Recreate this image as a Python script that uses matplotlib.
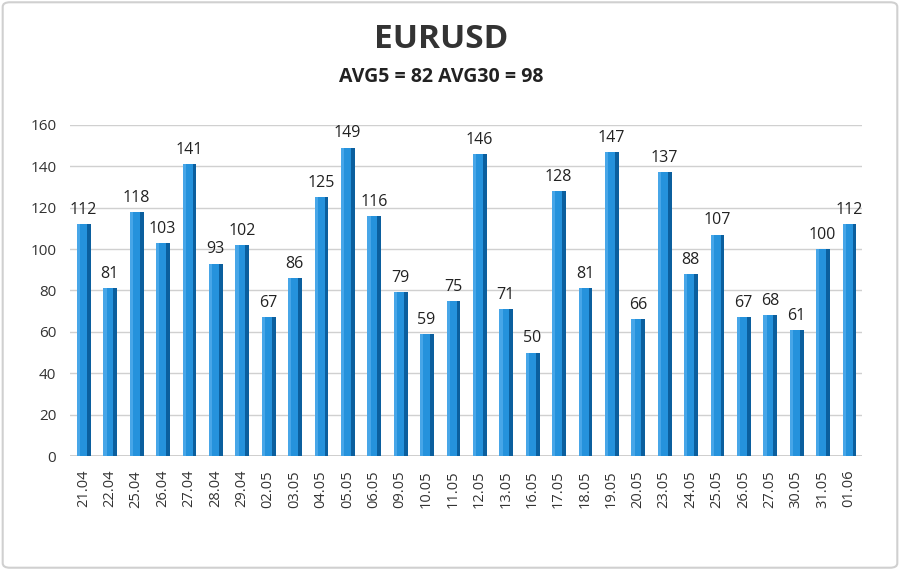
import matplotlib
matplotlib.use("Agg")
import matplotlib.pyplot as plt
import numpy as np
from matplotlib.patches import FancyBboxPatch

dates = ["21.04", "22.04", "25.04", "26.04", "27.04", "28.04", "29.04", "02.05", "03.05", "04.05",
         "05.05", "06.05", "09.05", "10.05", "11.05", "12.05", "13.05", "16.05", "17.05", "18.05",
         "19.05", "20.05", "23.05", "24.05", "25.05", "26.05", "27.05", "30.05", "31.05", "01.06"]
values = [112, 81, 118, 103, 141, 93, 102, 67, 86, 125,
          149, 116, 79, 59, 75, 146, 71, 50, 128, 81,
          147, 66, 137, 88, 107, 67, 68, 61, 100, 112]
yticks = [0, 20, 40, 60, 80, 100, 120, 140, 160]
title = "EURUSD"
subtitle = "AVG5 = 82 AVG30 = 98"

plt.rcParams['font.family'] = ['Open Sans', 'DejaVu Sans']

fig = plt.figure(figsize=(9, 5.7), dpi=100)
ax = fig.add_axes([0.078, 0.2, 0.88, 0.581])

x = np.arange(len(values))
front_w = 0.38
side_w = 0.14
# main face
ax.bar(x - 0.05, values, width=front_w, color="#2592dc", edgecolor="none", zorder=3)
# darker side face
ax.bar(x - 0.05 + front_w / 2 + side_w / 2, values, width=side_w, color="#0b5f9e",
       edgecolor="none", zorder=3)
# highlight strip on left of front face
ax.bar(x - 0.05 - front_w / 2 + 0.06, values, width=0.12, color="#47a6e8", edgecolor="none", zorder=3)

for xi, v in zip(x, values):
    ax.text(xi, v + 3, str(v), ha="center", va="bottom", fontsize=11.5, color="#222222", zorder=4)

ax.set_xlim(-0.5, len(values) - 0.5)
ax.set_ylim(0, 160)
ax.set_yticks(yticks)
ax.set_yticklabels([str(t) for t in yticks], fontsize=11, color="#333333")
ax.set_xticks(x)
ax.set_xticklabels(dates, rotation=90, fontsize=10.5, color="#333333")
ax.tick_params(axis="both", length=0)
ax.tick_params(axis="x", pad=10)
ax.tick_params(axis="y", pad=10)
ax.yaxis.grid(True, color="#d0d0d0", linewidth=1)
ax.set_axisbelow(True)
for s in ax.spines.values():
    s.set_visible(False)
ax.axhline(0, color="#c8c8c8", linewidth=1.2, zorder=2)

fig.text(0.49, 0.93, title, ha="center", va="center", fontsize=24, fontweight="bold", color="#333333")
fig.text(0.49, 0.865, subtitle, ha="center", va="center", fontsize=14, fontweight="bold", color="#222222")

border = FancyBboxPatch((0.003, 0.004), 0.994, 0.992, boxstyle="round,pad=0,rounding_size=0.008",
                        transform=fig.transFigure, fill=False, edgecolor="#d0d0d0", linewidth=1.5)
fig.patches.append(border)

fig.savefig("out.png", dpi=100)
